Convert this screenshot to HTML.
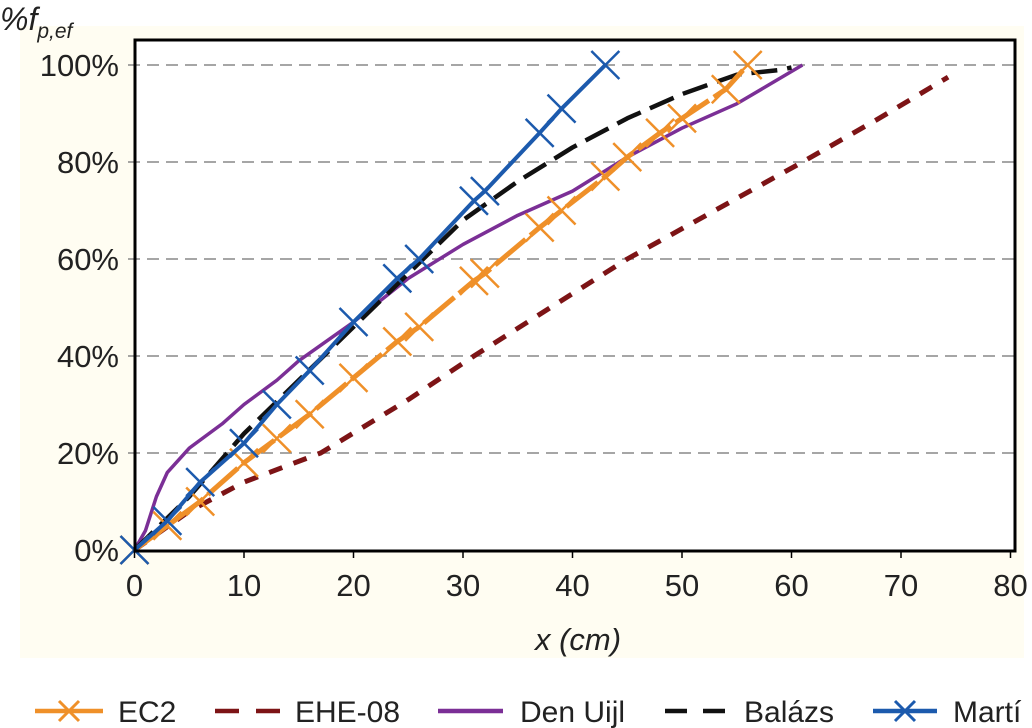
<!DOCTYPE html>
<html><head><meta charset="utf-8"><style>
html,body{margin:0;padding:0;background:#fff;width:1032px;height:728px;overflow:hidden}
svg text{font-family:"Liberation Sans",sans-serif;fill:#222}
</style></head><body>
<svg id="chart" width="1032" height="728">
<rect x="20" y="26" width="1004" height="632" fill="#fffdf2"/>
<rect x="135" y="40" width="880" height="511" fill="#fff"/>
<g id="grid"></g>
<g id="series"></g>
<rect x="135" y="40" width="880" height="511" fill="none" stroke="#000" stroke-width="3"/>
<g id="ticks"></g>
<text x="0" y="30" style="font-size:32px;font-style:italic">%f<tspan style="font-size:21px" dy="8">p,ef</tspan></text>
<text x="578" y="650" style="font-size:31px;font-style:italic" text-anchor="middle">x (cm)</text>
<g id="legend"></g>
</svg>
<script>
const xTicks=[0,10,20,30,40,50,60,70,80];
const yTicks=[0,20,40,60,80,100];
const ec2X=[0,3,6,10,13,16,20,24,26,31,32,37,39,43,45,48,50,54,56];
const ec2Y=[0,5,10,18,23,28,35.5,43,46,55.5,57,66.5,70,77,81,86,89,95,100];
const eheX=[0,5,10,17,25,31,38,45,53,61,68,74.3];
const eheY=[0,8,14,20,31,40,50,60,70,80,89,97.5];
const denX=[0,1,2,3,5,8,10,13,15,20,25,30,35,40,45,50,55,58,61];
const denY=[0,4,11,16,21,26,30,35,39,47,56,63,69,74,81,87,92,96,100];
const balX=[0,5,10,15,20,25,30,35,40,45,50,55,59,60];
const balY=[0,11,24,35,46,57,68,76,83,89,94,98,99,99.5];
const martiX=[0,3,6,10,13,16,20,24,26,31,32,37,39,43];
const martiY=[0,6,14,22,30,37,47,56,60,72,74,86,91,100];
const NS="http://www.w3.org/2000/svg";
const sx=v=>134.5+v*10.95, sy=v=>550-v*4.85;
function mk(t,a,p){const e=document.createElementNS(NS,t);for(const k in a)e.setAttribute(k,a[k]);p.appendChild(e);return e;}
const grid=document.getElementById('grid'),ticks=document.getElementById('ticks'),ser=document.getElementById('series'),leg=document.getElementById('legend');
yTicks.forEach(v=>{
 if(v>0){const l=mk('line',{x1:128,x2:1015,y1:sy(v),y2:sy(v),stroke:'#888','stroke-width':1.5,'stroke-dasharray':'12,7'},grid);
 
 }
 const t=mk('text',{x:119,y:sy(v)+11,'text-anchor':'end',style:'font-size:31px'},ticks);t.textContent=v+'%';
 
 
});
xTicks.forEach(v=>{
 const l=mk('line',{x1:sx(v),x2:sx(v),y1:551,y2:558,stroke:'#000','stroke-width':1.5},ticks);
 
 
 const t=mk('text',{x:sx(v),y:596,'text-anchor':'middle',style:'font-size:31px'},ticks);t.textContent=v;
 
 
});
function line(xs,ys,color,w,dash,name){
 const p=mk('polyline',{points:xs.map((x,i)=>sx(x)+','+sy(ys[i])).join(' '),fill:'none',stroke:color,'stroke-width':w,'stroke-dasharray':dash||'none','stroke-linejoin':'round'},ser);
 
 
}
function marks(xs,ys,color,name){
 xs.forEach((x,i)=>{const cx=sx(x),cy=sy(ys[i]),r=14;
  const g=mk('path',{d:`M${cx-r},${cy-r}L${cx+r},${cy+r}M${cx-r},${cy+r}L${cx+r},${cy-r}`,stroke:color,'stroke-width':2.5},ser);
  
  });
}
line(eheX,eheY,'#7d1416',5,'14,12','ehe08-line');
line(denX,denY,'#7b2f96',3.5,null,'den-uijl-line');
line(balX,balY,'#111',4.5,'26,10','balazs-line');
line(ec2X,ec2Y,'#ef9029',5,'40,6','ec2-line');marks(ec2X,ec2Y,'#ef9029','ec2-marker');
line(martiX,martiY,'#1c5aad',4,null,'marti-line');marks(martiX,martiY,'#1c5aad','marti-marker');
const L=[['EC2','#ef9029',35,68,118,'x','none'],['EHE-08','#7d1416',215,65,295,'','24,17'],['Den Uijl','#7b2f96',438,65,520,'','none'],['Balázs','#111',665,60,744,'','22,16'],['Martí','#1c5aad',873,64,953,'x','none']];
L.forEach(([n,c,x,w,tx,m,d])=>{
 const g=mk('g',{},leg);
 
 
 mk('line',{x1:x,x2:x+w,y1:711,y2:711,stroke:c,'stroke-width':4.5,'stroke-dasharray':d},g);
 if(m){const cx=x+w/2;mk('path',{d:`M${cx-10},${701}L${cx+10},${721}M${cx-10},${721}L${cx+10},${701}`,stroke:c,'stroke-width':3},g);}
 const t=mk('text',{x:tx,y:722,style:'font-size:30px'},g);t.textContent=n;
});
</script>
</body></html>
